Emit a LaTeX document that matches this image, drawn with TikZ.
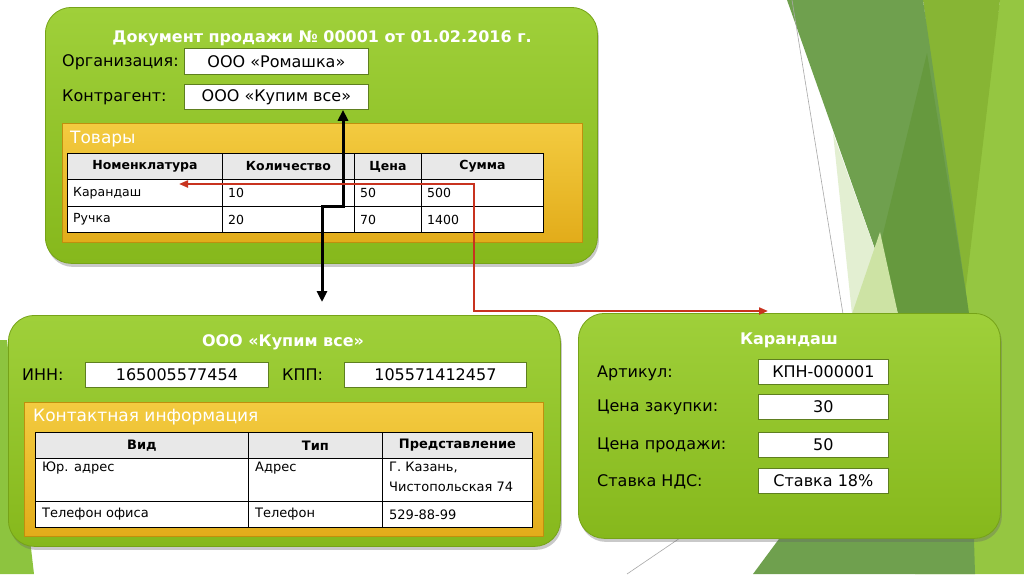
\documentclass[tikz,border=0pt]{standalone}
\usepackage{fontspec}
\setmainfont{DejaVu Sans}
\usetikzlibrary{arrows.meta,shadows}
\definecolor{gA}{HTML}{9FD03A}
\definecolor{gB}{HTML}{86B81C}
\definecolor{gE}{HTML}{76A318}
\definecolor{yA}{HTML}{F3CB40}
\definecolor{yB}{HTML}{E2AC1A}
\definecolor{yE}{HTML}{BF8F0E}
\definecolor{vE}{HTML}{5E7F1F}
\definecolor{hdrgray}{HTML}{E8E8E8}
\definecolor{redl}{HTML}{C8331F}
\definecolor{bgMed}{HTML}{6FA04E}
\definecolor{bgDark}{HTML}{66993E}
\definecolor{bgOlive}{HTML}{87B534}
\definecolor{bgBright}{HTML}{95C641}
\definecolor{bgPale}{HTML}{E3EFD2}
\definecolor{bgPaleB}{HTML}{CDE3A4}
\definecolor{bgLine}{HTML}{A8A8A8}
\definecolor{bgLeft}{HTML}{8DC43F}
\newcommand\mycell[6]{\node[cellbox,fill=#6,minimum width=#4,minimum height=#5] (#1) at (#2,#3) {};}
\begin{document}
\begin{tikzpicture}[x=1pt,y=-1pt,
  greenbox/.style={draw=gE, line width=0.8pt, rounded corners=26pt, top color=gA, bottom color=gB, inner sep=0pt, anchor=north west,
    drop shadow={shadow xshift=1.5pt, shadow yshift=-3.5pt, opacity=0.35, fill=black!60}},
  panel/.style={draw=yE, line width=0.8pt, top color=yA, bottom color=yB, inner sep=0pt, anchor=north west},
  valbox/.style={draw=vE, line width=0.8pt, fill=white, inner sep=0pt, anchor=north west, font=\fontsize{16}{18}\selectfont},
  cellbox/.style={draw=black, line width=0.9pt, inner sep=0pt, anchor=north west},
  boxtitle/.style={text=white, font=\bfseries\fontsize{16}{18}\selectfont, inner sep=0pt},
  lbl/.style={font=\fontsize{16}{18}\selectfont, anchor=west, inner sep=0pt},
  th/.style={font=\bfseries\fontsize{12.5}{14}\selectfont, inner sep=0pt},
  td/.style={font=\fontsize{12.5}{15}\selectfont, anchor=west, inner sep=0pt},
  thb/.style={font=\bfseries\fontsize{13}{15}\selectfont, inner sep=0pt},
  tdb/.style={font=\fontsize{13}{20}\selectfont, anchor=west, inner sep=0pt},
  paneltitle/.style={text=white, font=\fontsize{17}{19}\selectfont, anchor=west, inner sep=0pt},
  blkarrow/.style={line width=3pt, {Triangle[length=11pt,width=10pt]}-{Triangle[length=11pt,width=10pt]}},
  redarrow/.style={draw=redl, line width=2pt, {Triangle[length=9pt,width=7pt]}-{Triangle[length=9pt,width=7pt]}}
]
\useasboundingbox (0,0) rectangle (1024,574);
\fill[white] (0,0) rectangle (1024,574);
% background decoration
\fill[bgBright] (1000,0) -- (1024,0) -- (1024,574) -- (915,574) -- cycle;
\fill[bgOlive] (923,0) -- (1000,0) -- (963,312) -- cycle;
\fill[bgMed] (787,0) -- (923,0) -- (967,300) -- (975,574) -- (753,574) -- (793,520) -- (893,300) -- cycle;
\fill[bgDark] (927,53) -- (967,300) -- (970,320) -- (862,320) -- cycle;
\fill[bgPale] (833,133) -- (893,300) -- (898,314) -- (852,314) -- cycle;
\fill[bgPaleB] (852,314) -- (880,232) -- (898,314) -- cycle;
\draw[bgLine, line width=0.6pt] (792,0) -- (843,314);
\draw[bgLine, line width=0.6pt] (627,574) -- (680,538);
\fill[bgLeft] (0,340) -- (7,340) -- (34,574) -- (0,574) -- cycle;

% ===== Box 1: document
\node[greenbox, minimum width=552, minimum height=256] (doc) at (45,7) {};
\node[boxtitle] (doct) at (322,38) {Документ продажи № 00001 от 01.02.2016 г.};
\node[lbl] (orgl) at (62,62) {Организация:};
\node[valbox, minimum width=184, minimum height=26] (org) at (184,48) {ООО «Ромашка»};
\node[lbl] (kontrl) at (62,97) {Контрагент:};
\node[valbox, minimum width=184, minimum height=25] (kontr) at (184,84) {ООО «Купим все»};
\node[panel, minimum width=520, minimum height=119] (tovp) at (62,123) {};
\node[paneltitle] (tovt) at (70,139) {Товары};
\mycell{h1}{67}{153}{155}{26}{hdrgray}
\mycell{h2}{222}{153}{132}{26}{hdrgray}
\mycell{h3}{354}{153}{67}{26}{hdrgray}
\mycell{h4}{421}{153}{122}{26}{hdrgray}
\mycell{a1}{67}{179}{155}{27}{white}
\mycell{a2}{222}{179}{132}{27}{white}
\mycell{a3}{354}{179}{67}{27}{white}
\mycell{a4}{421}{179}{122}{27}{white}
\mycell{b1}{67}{206}{155}{26}{white}
\mycell{b2}{222}{206}{132}{26}{white}
\mycell{b3}{354}{206}{67}{26}{white}
\mycell{b4}{421}{206}{122}{26}{white}
\node[th] (h1t) at (h1.center) {Номенклатура};
\node[th] (h2t) at (h2.center) {Количество};
\node[th] (h3t) at (h3.center) {Цена};
\node[th] (h4t) at (h4.center) {Сумма};
\node[td] (a1t) at ([xshift=6pt]a1.west) {Карандаш};
\node[td] (a2t) at ([xshift=6pt]a2.west) {10};
\node[td] (a3t) at ([xshift=6pt]a3.west) {50};
\node[td] (a4t) at ([xshift=6pt]a4.west) {500};
\node[td] (b1t) at ([xshift=6pt]b1.west) {Ручка};
\node[td] (b2t) at ([xshift=6pt]b2.west) {20};
\node[td] (b3t) at ([xshift=6pt]b3.west) {70};
\node[td] (b4t) at ([xshift=6pt]b4.west) {1400};

% ===== Box 2: counterparty
\node[greenbox, minimum width=552, minimum height=231] (cp) at (8,315) {};
\node[boxtitle] (cpt) at (283,342) {ООО «Купим все»};
\node[lbl] (innl) at (22,375) {ИНН:};
\node[valbox, minimum width=183, minimum height=25] (inn) at (85,362) {165005577454};
\node[lbl] (kppl) at (282,375) {КПП:};
\node[valbox, minimum width=182, minimum height=25] (kpp) at (344,362) {105571412457};
\node[panel, minimum width=519, minimum height=134] (cip) at (24,402) {};
\node[paneltitle] (cit) at (33,417) {Контактная информация};
\mycell{k1}{35}{432}{213}{26}{hdrgray}
\mycell{k2}{248}{432}{134}{26}{hdrgray}
\mycell{k3}{382}{432}{150}{26}{hdrgray}
\mycell{m1}{35}{458}{213}{43}{white}
\mycell{m2}{248}{458}{134}{43}{white}
\mycell{m3}{382}{458}{150}{43}{white}
\mycell{n1}{35}{501}{213}{26}{white}
\mycell{n2}{248}{501}{134}{26}{white}
\mycell{n3}{382}{501}{150}{26}{white}
\node[thb] (k1t) at (k1.center) {Вид};
\node[thb] (k2t) at (k2.center) {Тип};
\node[thb] (k3t) at (k3.center) {Представление};
\node[tdb, anchor=north west] (m1t) at ([xshift=7pt,yshift=-4pt]m1.north west) {Юр. адрес};
\node[tdb, anchor=north west] (m2t) at ([xshift=7pt,yshift=-4pt]m2.north west) {Адрес};
\node[tdb, anchor=north west, align=left] (m3t) at ([xshift=7pt,yshift=-4pt]m3.north west) {Г. Казань,\\Чистопольская 74};
\node[tdb] (n1t) at ([xshift=7pt]n1.west) {Телефон офиса};
\node[tdb] (n2t) at ([xshift=7pt]n2.west) {Телефон};
\node[tdb] (n3t) at ([xshift=7pt]n3.west) {529-88-99};

% ===== Box 3: item
\node[greenbox, minimum width=422, minimum height=225] (item) at (578,313) {};
\node[boxtitle] (itemt) at (789,340) {Карандаш};
\node[lbl] (artl) at (597,373) {Артикул:};
\node[valbox, minimum width=130, minimum height=25] (art) at (758,359) {КПН-000001};
\node[lbl] (pbl) at (597,407) {Цена закупки:};
\node[valbox, minimum width=130, minimum height=25] (pb) at (758,394) {30};
\node[lbl] (psl) at (597,445) {Цена продажи:};
\node[valbox, minimum width=130, minimum height=25] (ps) at (758,432) {50};
\node[lbl] (vatl) at (597,482) {Ставка НДС:};
\node[valbox, minimum width=130, minimum height=25] (vat) at (758,468) {Ставка 18\%};

% ===== connectors
\coordinate (bk1) at (343,206);
\coordinate (bk2) at (322,206);
\coordinate (bkend) at (322,302);
\draw[blkarrow] (bk1 |- kontr.south) -- (bk1) -- (bk2) -- (bkend);
\coordinate (rs) at (179,184);
\coordinate (rk1) at (474,184);
\coordinate (rk2) at (474,311);
\coordinate (re) at (768,311);
\draw[redarrow] (rs) -- (rk1) -- (rk2) -- (re);
\end{tikzpicture}
\end{document}
